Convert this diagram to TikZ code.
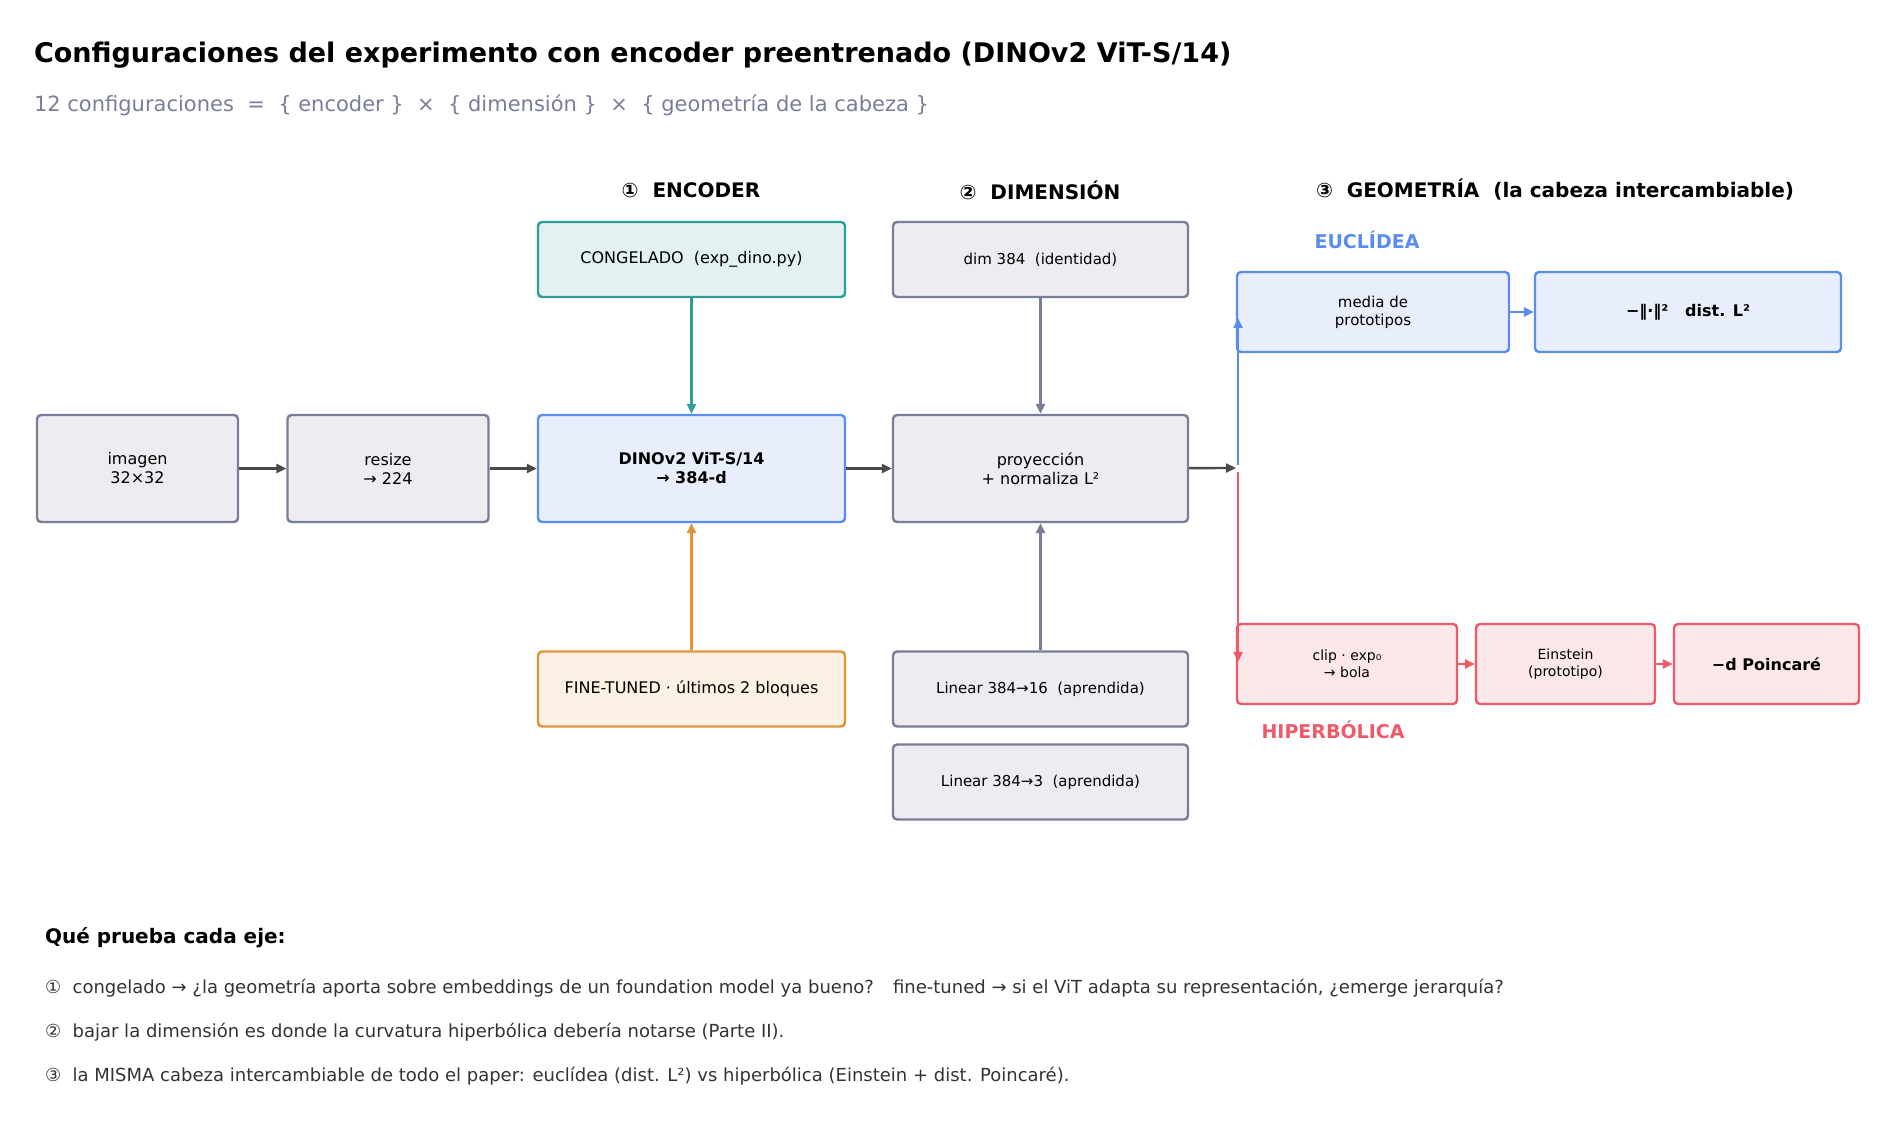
\documentclass[tikz,border=0pt]{standalone}
\usepackage{fontspec}
\setmainfont{DejaVu Sans}
\usetikzlibrary{arrows.meta,positioning}
\definecolor{grayb}{HTML}{7A7D9A}
\definecolor{grayf}{HTML}{EDECF1}
\definecolor{blueb}{HTML}{5B8DEF}
\definecolor{bluef}{HTML}{E8EEFC}
\definecolor{tealb}{HTML}{2E9E96}
\definecolor{tealf}{HTML}{E3F2F0}
\definecolor{orab}{HTML}{E0943A}
\definecolor{oraf}{HTML}{FAF0E4}
\definecolor{redb}{HTML}{EF5A6A}
\definecolor{redf}{HTML}{FCE8EA}
\definecolor{darkar}{HTML}{4A4A4A}
\definecolor{subt}{HTML}{7A7D9A}
\tikzset{
  box/.style={draw,rectangle,rounded corners=2pt,line width=1.2pt,align=center,font=\fontsize{8}{9.5}\selectfont,inner sep=2pt},
  gbox/.style={box,draw=grayb,fill=grayf},
  bbox/.style={box,draw=blueb,fill=bluef},
  tbox/.style={box,draw=tealb,fill=tealf},
  obox/.style={box,draw=orab,fill=oraf},
  rbox/.style={box,draw=redb,fill=redf},
  arr/.style={-{Triangle[length=5pt,width=4.5pt]},line width=1.2pt},
  head/.style={font=\fontsize{10}{12}\selectfont\bfseries},
  note/.style={anchor=west,font=\fontsize{9}{11}\selectfont,text=black!80},
}
\begin{document}
\begin{tikzpicture}[x=0.5pt,y=-0.5pt]
\useasboundingbox (0,0) rectangle (1890,1127);
% titulo
\node[anchor=west,font=\fontsize{13.5}{16}\selectfont\bfseries] (title) at (27,55) {Configuraciones del experimento con encoder preentrenado (DINOv2 ViT-S/14)};
\node[anchor=west,font=\fontsize{10.5}{12}\selectfont,text=subt] (sub) at (27,105) {12 configuraciones \ = \ \{ encoder \} \ × \ \{ dimensión \} \ × \ \{ geometría de la cabeza \}};
% cabeceras
\node[head] (h1) at (691,190) {①\ \ ENCODER};
\node[head] (h2) at (1040,190) {②\ \ DIMENSIÓN};
\node[head] (h3) at (1555,190) {③\ \ GEOMETRÍA\ \ (la cabeza intercambiable)};
% cadena principal
\node[gbox,minimum width=100.5pt,minimum height=53.5pt] (img) at (137.5,468.5) {imagen\\32×32};
\node[gbox,minimum width=100.5pt,minimum height=53.5pt] (res) at (388,468.5) {resize\\→ 224};
\node[bbox,minimum width=153.5pt,minimum height=53.5pt,font=\fontsize{8}{9.5}\selectfont\bfseries] (dino) at (691.5,468.5) {DINOv2 ViT-S/14\\→ 384-d};
\node[gbox,minimum width=147.5pt,minimum height=53.5pt] (proy) at (1040.5,468.5) {proyección\\+ normaliza L²};
% opciones de encoder
\node[tbox,minimum width=153.5pt,minimum height=37.5pt] (cong) at (691.5,259.5) {CONGELADO \ (exp\_dino.py)};
\node[obox,minimum width=153.5pt,minimum height=37.5pt] (fine) at (691.5,689) {FINE-TUNED · últimos 2 bloques};
% opciones de dimension
\node[gbox,minimum width=147.5pt,minimum height=37.5pt,font=\fontsize{7.5}{9}\selectfont] (d384) at (1040.5,259.5) {dim 384\ \ (identidad)};
\node[gbox,minimum width=147.5pt,minimum height=37.5pt,font=\fontsize{7.5}{9}\selectfont] (d16) at (1040.5,689) {Linear 384→16\ \ (aprendida)};
\node[gbox,minimum width=147.5pt,minimum height=37.5pt,font=\fontsize{7.5}{9}\selectfont] (d3) at (1040.5,782) {Linear 384→3 \ (aprendida)};
% geometrias
\node[font=\fontsize{9.5}{11}\selectfont\bfseries,text=blueb] (euc) at (1367,240) {EUCLÍDEA};
\node[bbox,minimum width=136pt,minimum height=40pt,font=\fontsize{7.5}{9}\selectfont] (media) at (1373,312) {media de\\prototipos};
\node[bbox,minimum width=153pt,minimum height=40pt,font=\fontsize{8}{9.5}\selectfont\bfseries] (dist) at (1688,312) {−‖·‖²\ \ \ dist. L²};
\node[rbox,minimum width=110pt,minimum height=40pt,font=\fontsize{7}{8.5}\selectfont] (clip) at (1347,664) {clip · exp₀\\→ bola};
\node[rbox,minimum width=89.5pt,minimum height=40pt,font=\fontsize{7}{8.5}\selectfont] (ein) at (1565.5,664) {Einstein\\(prototipo)};
\node[rbox,minimum width=92.5pt,minimum height=40pt,font=\fontsize{8}{9.5}\selectfont\bfseries] (poin) at (1766.5,664) {−d Poincaré};
\node[font=\fontsize{9.5}{11}\selectfont\bfseries,text=redb] (hip) at (1333,730) {HIPERBÓLICA};
\coordinate (split) at (1236,468);
\coordinate (bup) at (1238,465);
\coordinate (bend) at (1238,318);
\coordinate (rdn) at (1238,472);
\coordinate (rend) at (1238,662);
% flechas
\draw[arr,darkar] (img) -- (res);
\draw[arr,darkar] (res) -- (dino);
\draw[arr,darkar] (dino) -- (proy);
\draw[arr,darkar] (proy) -- (split);
\draw[arr,tealb] (cong) -- (dino);
\draw[arr,orab] (fine) -- (dino);
\draw[arr,grayb] (d384) -- (proy);
\draw[arr,grayb] (d16) -- (proy);
\draw[arr,blueb] (bup) -- (bend);
\draw[arr,redb] (rdn) -- (rend);
\draw[arr,blueb] (media) -- (dist);
\draw[arr,redb] (clip) -- (ein);
\draw[arr,redb] (ein) -- (poin);
% notas
\node[anchor=west,font=\fontsize{10}{12}\selectfont\bfseries] (qt) at (38,938) {Qué prueba cada eje:};
\node[note] (n1) at (38,988) {①\ \ congelado → ¿la geometría aporta sobre embeddings de un foundation model ya bueno? \ \ fine-tuned → si el ViT adapta su representación, ¿emerge jerarquía?};
\node[note] (n2) at (38,1032) {②\ \ bajar la dimensión es donde la curvatura hiperbólica debería notarse (Parte II).};
\node[note] (n3) at (38,1076) {③\ \ la MISMA cabeza intercambiable de todo el paper: euclídea (dist. L²) vs hiperbólica (Einstein + dist. Poincaré).};
\end{tikzpicture}
\end{document}
